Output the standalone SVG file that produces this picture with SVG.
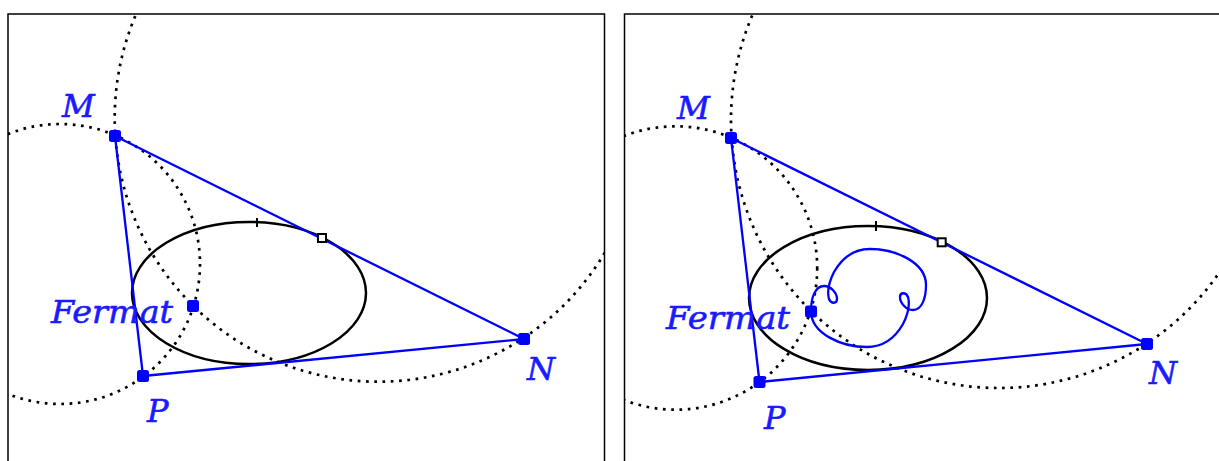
<svg xmlns="http://www.w3.org/2000/svg" width="1219" height="461" viewBox="0 0 1219 461">
  <style>
    .frame{fill:none;stroke:#000;stroke-width:1.5}
    .dots{fill:none;stroke:#000;stroke-width:2.7;stroke-dasharray:2.7 5.6}
    .conic{fill:none;stroke:#000;stroke-width:2.5}
    .tick{stroke:#000;stroke-width:2}
    .side{stroke:#0000ff;stroke-width:2.3;fill:none}
    .locus{stroke:#0000ff;stroke-width:2.3;fill:none}
    .pt{fill:#0000ff}
    .open{fill:#fff;stroke:#000;stroke-width:2}
    .lbl{fill:#1a1aff;stroke:#1a1aff;stroke-width:0.6;font-family:"DejaVu Serif","Liberation Serif",serif;font-style:italic;font-size:32px}
  </style>
  <defs>
    <clipPath id="clipL"><rect x="8" y="14" width="596.5" height="460"/></clipPath>
    <clipPath id="clipR"><rect x="624.5" y="14" width="600" height="460"/></clipPath>
  </defs>

  <!-- LEFT PANEL -->
  <g id="panel-left">
    <rect id="frame-left" class="frame" x="8" y="14" width="596.5" height="460"/>
    <g id="connectors-left" clip-path="url(#clipL)">
      <circle class="dots" cx="60" cy="264" r="140"/>
      <circle class="dots" cx="378.2" cy="118.2" r="263.5"/>
      <ellipse class="conic" cx="249" cy="293" rx="117" ry="71"/>
      <line class="tick" x1="257" y1="218" x2="257" y2="227"/>
      <line class="side" x1="115" y1="136" x2="524" y2="339"/>
      <line class="side" x1="115" y1="136" x2="143" y2="376"/>
      <line class="side" x1="143" y1="376" x2="524" y2="339"/>
    </g>
    <g id="node-tangent-left"><rect class="open" x="318" y="234" width="8" height="8"/></g>
    <g id="node-M-left"><rect class="pt" x="109" y="130" width="12" height="12" rx="2.5"/><text class="lbl" x="62" y="117">M</text></g>
    <g id="node-N-left"><rect class="pt" x="518" y="333" width="12" height="12" rx="2.5"/><text class="lbl" x="527" y="380">N</text></g>
    <g id="node-P-left"><rect class="pt" x="137" y="370" width="12" height="12" rx="2.5"/><text class="lbl" x="147" y="422">P</text></g>
    <g id="node-Fermat-left"><rect class="pt" x="187" y="300" width="12" height="12" rx="2.5"/><text class="lbl" x="51" y="323" textLength="122" lengthAdjust="spacingAndGlyphs">Fermat</text></g>
  </g>

  <!-- RIGHT PANEL -->
  <g id="panel-right">
    <rect id="frame-right" class="frame" x="624.5" y="14" width="600" height="460"/>
    <g id="connectors-right" clip-path="url(#clipR)">
      <circle class="dots" cx="675.5" cy="268" r="141.7"/>
      <circle class="dots" cx="999" cy="120" r="268"/>
      <ellipse class="conic" cx="868" cy="298" rx="119" ry="72"/>
      <line class="tick" x1="876" y1="221" x2="876" y2="231"/>
      <line class="side" x1="731" y1="138" x2="1147" y2="344"/>
      <line class="side" x1="731" y1="138" x2="759.5" y2="382"/>
      <line class="side" x1="759.5" y1="382" x2="1147" y2="344"/>
      <path id="fermat-locus" class="locus" d="M811,311 C811,298 815,286 824,286 C831,286 837,293 837,299 C837,304 831,304 829,299 C827,292 829,282 834,272 C842,258 854,249 870,249 C895,249 926,262 926,285 C926,298 922,310 913,310 C906,310 900,303 900,297 C900,292 906,292 908,297 C910,304 908,314 903,324 C895,338 883,347 867,347 C842,347 811,334 811,311 Z"/>
    </g>
    <g id="node-tangent-right"><rect class="open" x="937.7" y="238.3" width="8" height="8"/></g>
    <g id="node-M-right"><rect class="pt" x="725" y="132" width="12" height="12" rx="2.5"/><text class="lbl" x="677" y="119">M</text></g>
    <g id="node-N-right"><rect class="pt" x="1141" y="338" width="12" height="12" rx="2.5"/><text class="lbl" x="1149" y="384">N</text></g>
    <g id="node-P-right"><rect class="pt" x="753.5" y="376" width="12" height="12" rx="2.5"/><text class="lbl" x="764" y="429">P</text></g>
    <g id="node-Fermat-right"><rect class="pt" x="805" y="305.5" width="12" height="12" rx="2.5"/><text class="lbl" x="666" y="329" textLength="124" lengthAdjust="spacingAndGlyphs">Fermat</text></g>
  </g>
</svg>
